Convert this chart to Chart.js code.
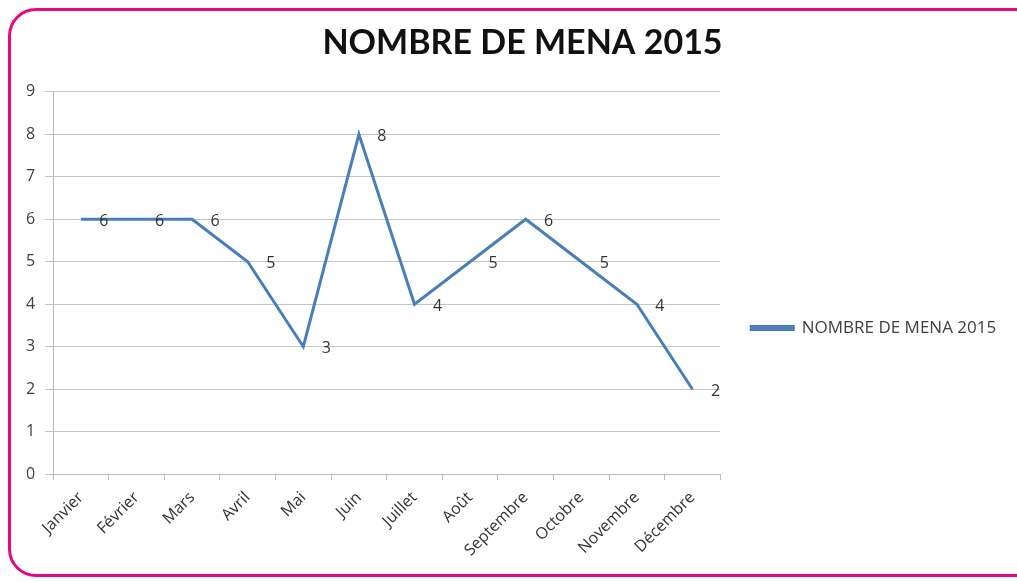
<!DOCTYPE html>
<html>
<head>
<meta charset="utf-8">
<script src="https://cdn.jsdelivr.net/npm/chart.js@4"></script>
<style>
  html, body { margin: 0; padding: 0; background: #fff; overflow: hidden; }
  #frame {
    position: absolute; left: 8px; top: 8px; width: 1040px; height: 569px;
    border: 3px solid #e5087f; border-radius: 28px; box-sizing: border-box;
  }
  #wrap { position: absolute; left: 0; top: 0; width: 1017px; height: 582px; }
</style>
</head>
<body>
<div id="frame"></div>
<div id="wrap"><canvas id="myChart" width="1017" height="582"></canvas></div>
<script>
// Chart data
const months = ['Janvier', 'Février', 'Mars', 'Avril', 'Mai', 'Juin', 'Juillet',
  'Août', 'Septembre', 'Octobre', 'Novembre', 'Décembre'];
const menaCounts = [6, 6, 6, 5, 3, 8, 4, 5, 6, 5, 4, 2];
const seriesName = 'NOMBRE DE MENA 2015';
const chartTitle = 'NOMBRE DE MENA 2015';

// small plugin: write each value to the right of its point
const valueLabels = {
  id: 'valueLabels',
  afterDatasetsDraw(chart) {
    const ctx = chart.ctx;
    ctx.save();
    ctx.font = '16px "Open Sans"';
    ctx.fillStyle = '#333';
    ctx.textAlign = 'center';
    ctx.textBaseline = 'middle';
    chart.data.datasets.forEach((ds, i) => {
      chart.getDatasetMeta(i).data.forEach((pt, j) => {
        ctx.fillText(ds.data[j], pt.x + 23, pt.y + 2);
      });
    });
    ctx.restore();
  }
};

// nudge title and legend to where they sit in the original
const nudge = {
  id: 'nudge',
  afterLayout(chart) {
    chart.titleBlock.left += 37;
    chart.titleBlock.right += 37;
    const lg = chart.legend;
    lg.left += 7;
    lg.right = chart.width;
    lg.width = lg.right - lg.left;
    lg.top += 44;
    lg.bottom += 44;
  }
};

const ctx = document.getElementById('myChart').getContext('2d');
new Chart(ctx, {
  type: 'line',
  data: {
    labels: months,
    datasets: [{
      label: seriesName,
      data: menaCounts,
      borderColor: '#4a7ebb',
      backgroundColor: '#4a7ebb',
      borderWidth: 3,
      pointRadius: 0,
      tension: 0
    }]
  },
  options: {
    responsive: false,
    animation: false,
    layout: { padding: { left: 16, right: 62, top: 0, bottom: 14 } },
    plugins: {
      title: {
        display: true,
        text: chartTitle,
        color: '#111',
        font: { family: 'Lato', size: 34, weight: 'bold' },
        padding: { top: 23, bottom: 28 }
      },
      legend: {
        position: 'right',
        labels: {
          boxWidth: 42,
          boxHeight: 3,
          color: '#404040',
          font: { family: 'Open Sans', size: 17 },
          padding: 24
        }
      },
      tooltip: { enabled: false }
    },
    scales: {
      x: {
        offset: true,
        grid: { offset: true, drawOnChartArea: false, drawTicks: true, tickLength: 6, color: '#bbb' },
        border: { color: '#bbb' },
        ticks: {
          minRotation: 45, maxRotation: 45,
          color: '#333',
          font: { family: 'Open Sans', size: 16 },
          padding: 8
        }
      },
      y: {
        min: 0, max: 9,
        grid: { color: '#c4c4c4', tickLength: 8 },
        border: { color: '#bbb' },
        ticks: {
          stepSize: 1,
          color: '#404040',
          font: { family: 'Open Sans', size: 16 },
          padding: 10
        }
      }
    }
  },
  plugins: [valueLabels, nudge]
});
</script>
</body>
</html>
